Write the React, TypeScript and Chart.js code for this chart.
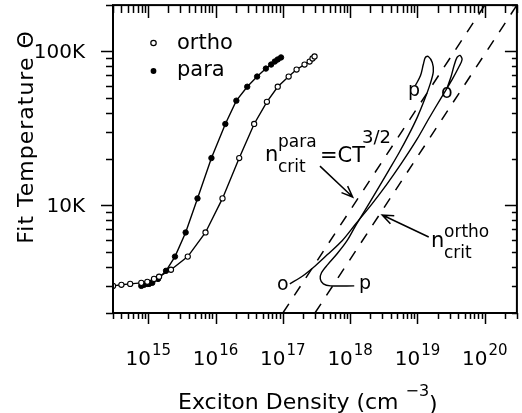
import React, { useEffect, useRef } from 'react';
import { Chart, registerables } from 'chart.js';

Chart.register(...registerables);

// ---------- data ----------
const orthoDensity = [3.0e14, 4.0e14, 5.4e14, 7.9e14, 9.7e14, 1.22e15, 1.45e15, 2.18e15, 3.87e15, 7.1e15, 1.27e16, 2.25e16, 3.75e16, 5.8e16, 8.4e16, 1.22e17, 1.6e17, 2.1e17, 2.5e17, 2.76e17, 2.96e17];
const orthoTemp = [3000, 3050, 3090, 3140, 3190, 3330, 3440, 3820, 4650, 6670, 11100, 20300, 33800, 47100, 59000, 68700, 76300, 82200, 86000, 90000, 92800];

const paraDensity = [7.9e14, 8.7e14, 9.7e14, 1.03e15, 1.15e15, 1.4e15, 1.84e15, 2.5e15, 3.6e15, 5.4e15, 8.7e15, 1.4e16, 2.04e16, 2.96e16, 4.15e16, 5.6e16, 6.7e16, 7.6e16, 8.4e16, 9.4e16];
const paraTemp = [3000, 3050, 3090, 3090, 3140, 3330, 3760, 4650, 6670, 11100, 20300, 33800, 47900, 59000, 68700, 77400, 82200, 86000, 88700, 91400];

// theory trajectories (solid curves, no markers)
const paraCurveDensity = [1.15e18, 5.1e17, 4.0e17, 3.6e17, 3.75e17, 4.6e17, 6.4e17, 9.0e17, 1.19e18, 1.66e18, 2.5e18, 3.75e18, 5.3e18, 7.4e18, 1.0e19, 1.27e19, 1.55e19, 1.72e19, 1.66e19, 1.45e19, 1.31e19, 1.22e19, 1.11e19, 9.3e18];
const paraCurveTemp = [3000, 3000, 3090, 3330, 3650, 4110, 4850, 5900, 7300, 9270, 12500, 16900, 21900, 28700, 37600, 48500, 61800, 74000, 84700, 92800, 91400, 82200, 69700, 60000];

const orthoCurveDensity = [1.27e17, 1.97e17, 3.05e17, 4.6e17, 7.6e17, 1.19e18, 2.1e18, 3.5e18, 5.8e18, 9.7e18, 1.5e19, 2.25e19, 3.27e19, 4.15e19, 4.6e19, 4.29e19, 3.87e19, 3.5e19, 3.16e19, 2.76e19];
const orthoCurveTemp = [3090, 3480, 4060, 4790, 5900, 7520, 10200, 13700, 18800, 26600, 37100, 50000, 65600, 79800, 88700, 94200, 91400, 81000, 68700, 58200];

// critical density lines n = C T^{3/2}
const critParaDensity = [1e17, 1e20];
const critParaTemp = [2000, 200000];
const critOrthoDensity = [3e17, 3e20];
const critOrthoTemp = [2000, 200000];

// axes
const xMin = 3e14;
const xMax = 3e20;
const yMin = 2000;
const yMax = 200000;
const xMajorTicks = [1e15, 1e16, 1e17, 1e18, 1e19, 1e20];
const xTickExponents = ['15', '16', '17', '18', '19', '20'];
const yMajorTicks = [1e4, 1e5];
const yTickLabels = ['10K', '100K'];

// arrows (data coordinates): [fromX, fromY, toX, toY]
const paraArrow = [3.56e17, 18000, 1.09e18, 11330];
const orthoArrow = [1.47e19, 6230, 3.0e18, 8660];

const FONT = '"DejaVu Sans", sans-serif';

const zip = (xs: number[], ys: number[]) => xs.map((x, i) => ({ x, y: ys[i] }));

function minorTicks(min: number, max: number) {
  const out: { v: number; major: boolean }[] = [];
  for (let e = Math.floor(Math.log10(min)); e <= Math.ceil(Math.log10(max)); e++) {
    for (let k = 1; k <= 9; k++) {
      const v = k * Math.pow(10, e);
      if (v >= min * 0.999 && v <= max * 1.001) out.push({ v, major: k === 1 });
    }
  }
  return out;
}

const overlay = {
  id: 'overlay',
  afterDatasetsDraw(chart: any) {
    const { ctx, chartArea: a, scales } = chart;
    const xs = scales.x;
    const ys = scales.y;
    const P = (x: number, y: number) => [xs.getPixelForValue(x), ys.getPixelForValue(y)];
    ctx.save();
    ctx.strokeStyle = '#000';
    ctx.fillStyle = '#000';
    ctx.lineCap = 'butt';

    // frame
    ctx.lineWidth = 2;
    ctx.strokeRect(a.left, a.top, a.right - a.left, a.bottom - a.top);

    // ticks
    ctx.lineWidth = 1.5;
    ctx.beginPath();
    for (const t of minorTicks(xMin, xMax)) {
      const px = Math.round(xs.getPixelForValue(t.v)) + 0.5;
      const len = t.major ? 11 : 6;
      ctx.moveTo(px, a.bottom);
      ctx.lineTo(px, a.bottom + len);
      ctx.moveTo(px, a.top);
      ctx.lineTo(px, a.top + len + 2);
    }
    for (const t of minorTicks(yMin, yMax)) {
      const py = Math.round(ys.getPixelForValue(t.v)) + 0.5;
      const len = t.major ? 12 : 7;
      ctx.moveTo(a.left - len, py);
      ctx.lineTo(a.left, py);
      ctx.moveTo(a.right - len + (t.major ? 0 : 2), py);
      ctx.lineTo(a.right, py);
    }
    ctx.stroke();

    // x tick labels 10^n
    ctx.textBaseline = 'alphabetic';
    ctx.textAlign = 'left';
    xMajorTicks.forEach((v, i) => {
      const px = xs.getPixelForValue(v);
      ctx.font = `20px ${FONT}`;
      const wb = ctx.measureText('10').width;
      ctx.font = `15px ${FONT}`;
      const ws = ctx.measureText(xTickExponents[i]).width;
      const x0 = px - (wb + ws + 1) / 2;
      ctx.font = `20px ${FONT}`;
      ctx.fillText('10', x0, a.bottom + 52);
      ctx.font = `15px ${FONT}`;
      ctx.fillText(xTickExponents[i], x0 + wb + 1, a.bottom + 42);
    });

    // y tick labels
    ctx.font = `20px ${FONT}`;
    ctx.textAlign = 'right';
    yMajorTicks.forEach((v, i) => {
      const py = ys.getPixelForValue(v);
      ctx.fillText(yTickLabels[i], a.left - 28, py + 7);
    });

    // x title
    ctx.textAlign = 'left';
    ctx.font = `22px ${FONT}`;
    const xt = 'Exciton Density (cm';
    const wxt = ctx.measureText(xt).width;
    const xtStart = 178;
    ctx.fillText(xt, xtStart, 409);
    ctx.font = `16px ${FONT}`;
    ctx.fillText('\u22123', xtStart + wxt + 7, 396);
    const wsup = ctx.measureText('\u22123').width;
    ctx.font = `22px ${FONT}`;
    ctx.fillText(')', xtStart + wxt + 7 + wsup, 411);

    // y title
    ctx.save();
    ctx.translate(33, 137);
    ctx.rotate(-Math.PI / 2);
    ctx.textAlign = 'center';
    ctx.font = `22px ${FONT}`;
    try { (ctx as any).letterSpacing = '1px'; } catch (e) {}
    ctx.fillText('Fit Temperature \u0398', 0, 0);
    try { (ctx as any).letterSpacing = '0px'; } catch (e) {}
    ctx.restore();

    // legend
    ctx.lineWidth = 1.2;
    ctx.beginPath();
    ctx.arc(153.5, 43, 2.7, 0, Math.PI * 2);
    ctx.fillStyle = '#fff';
    ctx.fill();
    ctx.stroke();
    ctx.fillStyle = '#000';
    ctx.beginPath();
    ctx.arc(153.5, 71, 2.9, 0, Math.PI * 2);
    ctx.fill();
    ctx.font = `21px ${FONT}`;
    ctx.textAlign = 'left';
    ctx.fillText('ortho', 177, 49);
    ctx.fillText('para', 177, 76);

    // n_crit^para = CT^{3/2}
    ctx.font = `21px ${FONT}`;
    ctx.fillText('n', 265, 161);
    ctx.fillText('=CT', 320, 162);
    ctx.font = `17px ${FONT}`;
    ctx.fillText('para', 278, 147);
    ctx.fillText('crit', 278, 172);
    ctx.font = `18px ${FONT}`;
    ctx.fillText('3/2', 362, 143);

    // n_crit^ortho
    ctx.font = `21px ${FONT}`;
    ctx.fillText('n', 431, 247);
    ctx.font = `17px ${FONT}`;
    ctx.fillText('ortho', 444, 237);
    ctx.fillText('crit', 444, 258);

    // curve labels
    ctx.font = `19px ${FONT}`;
    ctx.fillText('o', 277, 290);
    ctx.fillText('p', 359, 289);
    ctx.fillText('p', 408, 96);
    ctx.fillText('o', 441, 98);

    // arrows
    const arrow = (arr: number[]) => {
      const [x1, y1] = P(arr[0], arr[1]);
      const [x2, y2] = P(arr[2], arr[3]);
      const ang = Math.atan2(y2 - y1, x2 - x1);
      const h = 12;
      const s = 0.38;
      ctx.lineWidth = 1.5;
      ctx.beginPath();
      ctx.moveTo(x1, y1);
      ctx.lineTo(x2, y2);
      ctx.moveTo(x2 - h * Math.cos(ang - s), y2 - h * Math.sin(ang - s));
      ctx.lineTo(x2, y2);
      ctx.lineTo(x2 - h * Math.cos(ang + s), y2 - h * Math.sin(ang + s));
      ctx.stroke();
    };
    arrow(paraArrow);
    arrow(orthoArrow);

    ctx.restore();
  },
};

export default function App() {
  const ref = useRef<HTMLCanvasElement | null>(null);
  useEffect(() => {
    document.body.style.margin = '0';
    const canvas = ref.current;
    if (!canvas) return;
    const chart = new Chart(canvas, {
      type: 'scatter',
      data: {
        datasets: [
          {
            label: 'critPara',
            data: zip(critParaDensity, critParaTemp),
            showLine: true,
            borderColor: '#000',
            borderWidth: 1.5,
            borderDash: [11, 10],
            pointRadius: 0,
          },
          {
            label: 'critOrtho',
            data: zip(critOrthoDensity, critOrthoTemp),
            showLine: true,
            borderColor: '#000',
            borderWidth: 1.5,
            borderDash: [11, 10],
            pointRadius: 0,
          },
          {
            label: 'paraCurve',
            data: zip(paraCurveDensity, paraCurveTemp),
            showLine: true,
            borderColor: '#000',
            borderWidth: 1.4,
            pointRadius: 0,
            tension: 0.3,
          },
          {
            label: 'orthoCurve',
            data: zip(orthoCurveDensity, orthoCurveTemp),
            showLine: true,
            borderColor: '#000',
            borderWidth: 1.4,
            pointRadius: 0,
            tension: 0.3,
          },
          {
            label: 'ortho',
            data: zip(orthoDensity, orthoTemp),
            showLine: true,
            borderColor: '#000',
            borderWidth: 1.4,
            pointRadius: 2.6,
            pointBorderWidth: 1.1,
            pointBackgroundColor: '#fff',
            pointBorderColor: '#000',
          },
          {
            label: 'para',
            data: zip(paraDensity, paraTemp),
            showLine: true,
            borderColor: '#000',
            borderWidth: 1.4,
            pointRadius: 2.7,
            pointBorderWidth: 1,
            pointBackgroundColor: '#000',
            pointBorderColor: '#000',
          },
        ],
      },
      options: {
        animation: false,
        responsive: false,
        devicePixelRatio: 1,
        layout: { padding: { left: 113, right: 1, top: 5, bottom: 100 } },
        plugins: { legend: { display: false }, tooltip: { enabled: false } },
        scales: {
          x: { type: 'logarithmic', min: xMin, max: xMax, display: false },
          y: { type: 'logarithmic', min: yMin, max: yMax, display: false },
        },
      },
      plugins: [overlay],
    } as any);
    return () => chart.destroy();
  }, []);
  return (
    <div style={{ position: 'absolute', left: 0, top: 0, width: 522, height: 413, background: '#fff' }}>
      <canvas ref={ref} width={522} height={413} style={{ display: 'block', width: 522, height: 413 }} />
    </div>
  );
}
